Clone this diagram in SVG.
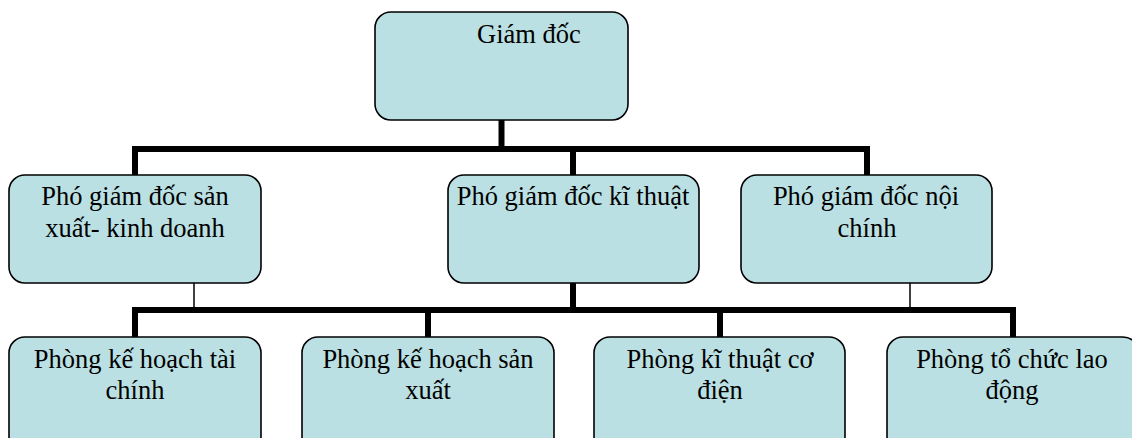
<svg xmlns="http://www.w3.org/2000/svg" width="1132" height="438" viewBox="0 0 1132 438">
<style>
.box{fill:#BBE0E3;stroke:#000;stroke-width:1.6}
.t{font-family:"Liberation Serif","Times New Roman",serif;font-size:26.5px;fill:#000}
.c{text-anchor:middle}
.thick{fill:none;stroke:#000;stroke-width:6;stroke-linejoin:miter;stroke-linecap:butt}
.thin{fill:none;stroke:#000;stroke-width:1.5}
</style>
<rect width="1132" height="438" fill="#fff"/>
<g id="connectors">
<path class="thick" d="M501.5,120 V149"/>
<path class="thick" d="M135,176 V149 H867 V176"/>
<path class="thick" d="M573,149 V176"/>
<path class="thick" d="M573,283 V310"/>
<path class="thick" d="M135,338 V310 H1013 V338"/>
<path class="thick" d="M428,310 V338"/>
<path class="thick" d="M720,310 V338"/>
<path class="thin" d="M194,283 V310"/>
<path class="thin" d="M910,283 V310"/>
</g>
<g id="giam-doc">
<rect class="box" x="375" y="12" width="253" height="108" rx="16"/>
<text class="t" x="477" y="43">Giám đốc</text>
</g>
<g id="pgd-sx-kd">
<rect class="box" x="9" y="175" width="252" height="108" rx="16"/>
<text class="t c" x="135" y="205">Phó giám đốc sản</text>
<text class="t c" x="135" y="237">xuất- kinh doanh</text>
</g>
<g id="pgd-kt">
<rect class="box" x="448" y="175" width="251" height="108" rx="16"/>
<text class="t c" x="573" y="205">Phó giám đốc kĩ thuật</text>
</g>
<g id="pgd-nc">
<rect class="box" x="741" y="175" width="251" height="108" rx="16"/>
<text class="t c" x="866" y="205">Phó giám đốc nội</text>
<text class="t c" x="867" y="237">chính</text>
</g>
<g id="p-khtc">
<rect class="box" x="9" y="337" width="252" height="120" rx="16"/>
<text class="t c" x="135" y="368">Phòng kế hoạch tài</text>
<text class="t c" x="135" y="399">chính</text>
</g>
<g id="p-khsx">
<rect class="box" x="302" y="337" width="252" height="120" rx="16"/>
<text class="t c" x="428" y="368">Phòng kế hoạch sản</text>
<text class="t c" x="428" y="399">xuất</text>
</g>
<g id="p-ktcd">
<rect class="box" x="594" y="337" width="251" height="120" rx="16"/>
<text class="t c" x="720" y="368">Phòng kĩ thuật cơ</text>
<text class="t c" x="720" y="399">điện</text>
</g>
<g id="p-tcld">
<rect class="box" x="887" y="337" width="252" height="120" rx="16"/>
<text class="t c" x="1012" y="368">Phòng tổ chức lao</text>
<text class="t c" x="1012" y="399">động</text>
</g>
</svg>
